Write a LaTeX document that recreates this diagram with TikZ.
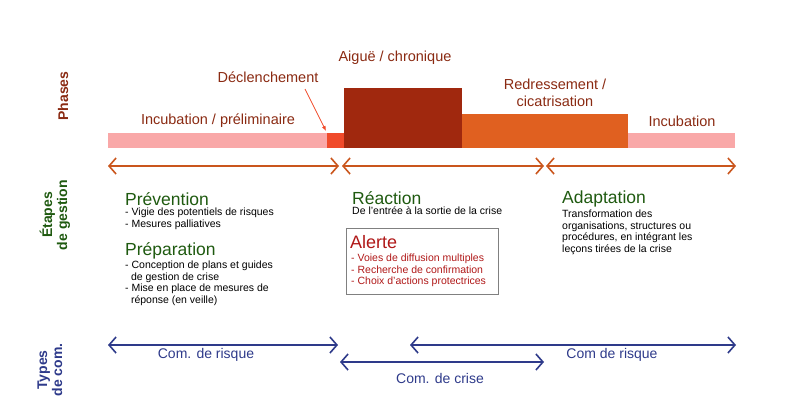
\documentclass[tikz,border=0pt]{standalone}
\usepackage{fontspec}
\setmainfont{Liberation Sans}
\usetikzlibrary{arrows.meta}
\definecolor{pinkb}{HTML}{F9A8A8}
\definecolor{redb}{HTML}{F04A2A}
\definecolor{darkb}{HTML}{A0280E}
\definecolor{orb}{HTML}{E06020}
\definecolor{phtxt}{HTML}{8A2A12}
\definecolor{grn}{HTML}{1F5A10}
\definecolor{blu}{HTML}{2E3A8A}
\definecolor{alr}{HTML}{B01818}
\begin{document}
\begin{tikzpicture}[x=1pt,y=-1pt,
  oarr/.style={draw=orb!90!black,line width=1.6pt,{Straight Barb[length=7pt,width=16pt]}-{Straight Barb[length=7pt,width=16pt]}},
  barr/.style={draw=blu,line width=1.6pt,{Straight Barb[length=7pt,width=16pt]}-{Straight Barb[length=7pt,width=16pt]}},
  ph/.style={text=phtxt,font=\fontsize{14.5}{17}\selectfont,align=center,inner sep=0},
  head/.style={text=grn,font=\fontsize{17.5}{19}\selectfont,anchor=west,inner sep=0},
  items/.style={font=\fontsize{10.5}{11.5}\selectfont,anchor=north west,align=left,inner sep=0},
  side/.style={rotate=90,font=\bfseries\fontsize{14}{15}\selectfont,align=center},
  com/.style={text=blu,font=\fontsize{14}{16}\selectfont}]
\useasboundingbox (0,0) rectangle (800,413);
\fill[pinkb] (108,133) rectangle (735,148);
\fill[redb] (327,133) rectangle (344,148);
\fill[darkb] (344,88) rectangle (462,148);
\fill[orb] (462,114) rectangle (628,148);
\node[side,text=phtxt] (s1) at (63,96) {Phases};
\node[side,text=grn] (s2) at (55,215) {Étapes\\de gestion};
\node[side,text=blu] (s3) at (50,370) {Types\\de com.};
\node[ph] (l1) at (218,121) {Incubation / préliminaire};
\node[ph] (l2) at (268,77) {Déclenchement};
\node[ph] (l3) at (395,58) {Aiguë / chronique};
\node[ph] (l4) at (555,93) {Redressement /\\cicatrisation};
\node[ph] (l5) at (682,121) {Incubation};
\coordinate (dt) at (326,131);
\coordinate (ds) at (305,89);
\draw[redb,line width=0.8pt,-{Latex[length=5pt,width=4pt]}] (ds) -- (dt);
\coordinate (a1) at (108,166); \coordinate (a2) at (339,166);
\coordinate (a3) at (342,166); \coordinate (a4) at (544,166);
\coordinate (a5) at (546,166); \coordinate (a6) at (736,166);
\draw[oarr] (a1) -- (a2); \draw[oarr] (a3) -- (a4); \draw[oarr] (a5) -- (a6);
\node[head] (h1) at (125,199) {Prévention};
\node[items] (i1) at (125,208) {- Vigie des potentiels de risques\\- Mesures palliatives};
\node[head] (h2) at (125,251) {Préparation};
\node[items] (i2) at (125,261) {- Conception de plans et guides\\\ \ de gestion de crise\\- Mise en place de mesures de\\\ \ réponse (en veille)};
\node[head] (h3) at (352,198) {Réaction};
\node[items] (i3) at (352,207) {De l'entrée à la sortie de la crise};
\node[draw=gray,line width=1pt,minimum width=152pt,minimum height=66pt] (box) at (422,261) {};
\node[head,text=alr,font=\fontsize{18}{19}\selectfont] (h4) at (350,242) {Alerte};
\node[items,text=alr] (i4) at (351,254) {- Voies de diffusion multiples\\- Recherche de confirmation\\- Choix d'actions protectrices};
\node[head] (h5) at (562,199) {Adaptation};
\node[items] (i5) at (562,210) {Transformation des\\organisations, structures ou\\procédures, en intégrant les\\leçons tirées de la crise};
\coordinate (b1) at (108,345); \coordinate (b2) at (338,345);
\coordinate (b3) at (410,345); \coordinate (b4) at (736,345);
\coordinate (b5) at (340,362); \coordinate (b6) at (544,362);
\draw[barr] (b1) -- (b2); \draw[barr] (b3) -- (b4); \draw[barr] (b5) -- (b6);
\node[com] (c1) at (206,355) {Com. de risque};
\node[com] (c2) at (612,355) {Com de risque};
\node[com] (c3) at (440,378) {Com. de crise};
\end{tikzpicture}
\end{document}
